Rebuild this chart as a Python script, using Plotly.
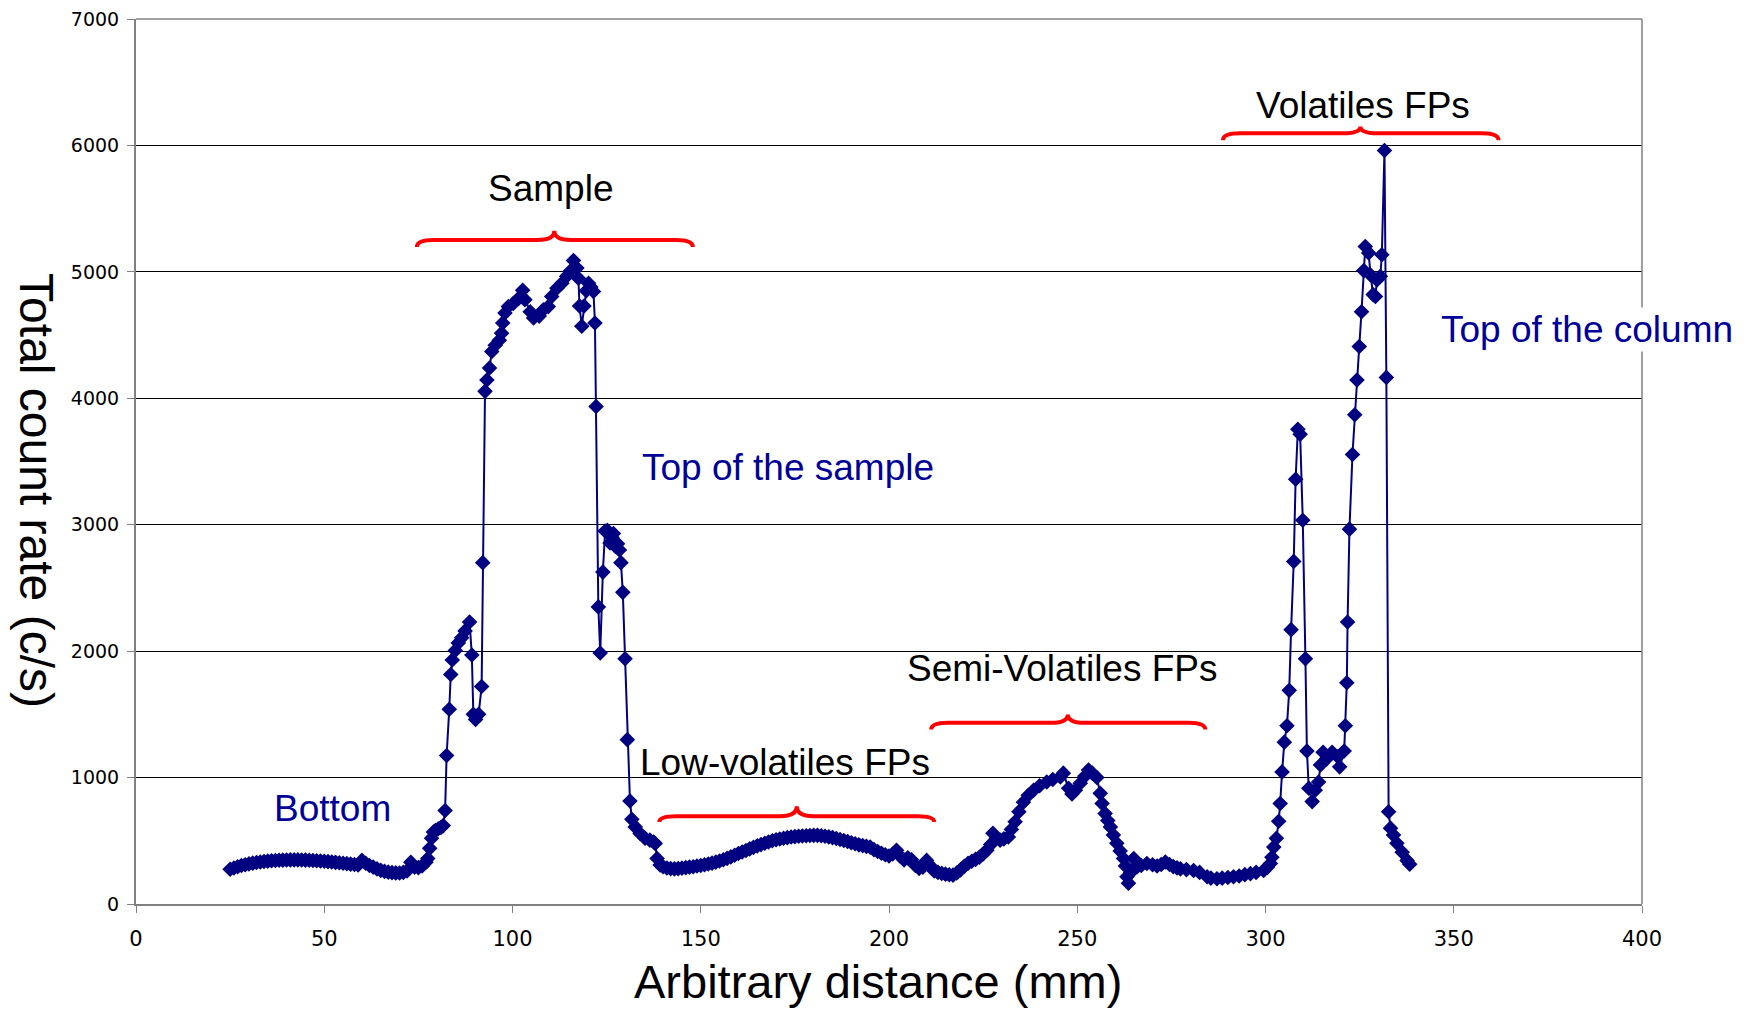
import plotly.graph_objects as go

# ---- data ----
distance_mm = [
    25, 26, 27, 28, 29, 30, 31, 32, 33, 34, 35, 36, 37, 38, 39, 40, 41, 42, 43, 44,
    45, 46, 47, 48, 49, 50, 51, 52, 53, 54, 55, 56, 57, 58, 59, 60, 61, 62, 63, 64,
    65, 66, 67, 68, 69, 70, 71, 72, 73, 74, 75, 76, 77, 77.5, 78, 78.5, 79, 79.5, 80.3, 81,
    81.6, 82.1, 82.5, 83.2, 83.6, 84.0, 84.8, 85.6, 86.5, 87.4, 88.6, 89.2, 89.6, 90.2, 91.0, 91.8,
    92.1, 92.7, 93.2, 93.9, 94.5, 95.4, 96.5, 97.1, 97.4, 98.0, 98.9, 100.2, 101.6, 102.7, 103.3, 104.7,
    105.6, 107.1, 108.2, 109.5, 110.4, 111.8, 113.1, 114.4, 115.3, 116.2, 117.1, 117.5, 117.8, 118.4, 119.0, 119.6,
    120.2, 120.8, 121.5, 121.9, 122.2, 122.8, 123.3, 124.0, 124.6, 125.2, 125.9, 126.4, 126.8, 127.3, 127.9, 128.4,
    128.8, 129.3, 129.9, 130.5, 131.2, 131.7, 132.6, 133.9, 135.2, 136.5, 137.5, 137.9, 138.4, 139.2,
    140, 141, 142, 143, 144, 145, 146, 147, 148, 149, 150, 151, 152, 153, 154, 155, 156, 157, 158, 159,
    160, 161, 162, 163, 164, 165, 166, 167, 168, 169, 170, 171, 172, 173, 174, 175, 176, 177, 178, 179,
    180, 181, 182, 183, 184, 185, 186, 187, 188, 189, 190, 191, 192, 193, 194, 195, 196, 197, 198, 199,
    200, 201, 202, 203, 204, 205, 206, 207, 208, 209, 210, 211, 212, 213, 214, 215, 216, 217, 218, 219,
    220, 221, 222, 223, 224, 225, 226, 227, 227.6, 228.5, 229.5, 230.5, 231.7, 232.5, 233.5, 234.5,
    235.7, 237.0, 238.4, 240.0, 241.9, 243.5, 245.5, 246.3, 247.7, 248.6, 249.5, 250.8, 252.0, 253.0, 254.0, 255.2,
    256.1, 256.6, 257.4, 258.1, 258.8, 259.6, 260.5, 261.4, 262.3, 262.8, 263.2, 263.6, 264.2, 265.0, 265.9, 267.0,
    268.5, 270.0, 271.2, 272.3, 273.4, 274.5, 275.5, 276.5, 277.4, 279.0, 280.9, 282.5, 284.5, 285.5, 287.1, 288.5,
    290.0, 291.5, 293.0, 294.5, 296.0, 297.5, 299.5, 300.5, 301.3, 301.7, 302.2, 302.9, 303.5, 303.9, 304.4, 305.0,
    305.7, 306.3, 306.8, 307.5, 308.0, 308.6, 309.2, 309.9, 310.6, 311.0, 311.5, 312.4, 313.2, 314.1, 314.6, 315.3,
    316.3, 317.7, 319.2, 319.7, 320.9, 321.2, 321.6, 321.8, 322.3, 323.1, 323.7, 324.3, 324.9, 325.5, 326.1, 326.5,
    327.4, 327.9, 328.6, 329.2, 329.6, 330.5, 330.9, 331.6, 332.1, 332.7, 333.2, 334.0, 334.9, 336.3, 337.6, 338.3,
]

count_rate = [
    275, 285, 295, 304, 311, 317, 323, 328, 332, 336, 339, 342, 344, 346, 347, 348, 349, 349, 349, 348,
    347, 346, 344, 342, 340, 338, 335, 332, 329, 326, 322, 319, 315, 312, 308, 345, 322, 305, 292, 278,
    266, 258, 252, 248, 246, 245, 250, 262, 330, 292, 288, 300, 330, 360, 440, 520, 570, 580, 595, 605,
    620, 740, 1175, 1540, 1815, 1930, 2005, 2065, 2105, 2160, 2230, 1970, 1500, 1460, 1500, 1720,
    2700, 4055, 4145, 4240, 4370, 4420, 4460, 4515, 4595, 4675, 4725, 4750, 4790, 4855, 4780, 4685,
    4635, 4650, 4700, 4725, 4805, 4870, 4910, 4965, 5005, 5090, 5030, 4950, 4730, 4570, 4730, 4850,
    4910, 4880, 4845, 4595, 3935, 2350, 1985, 2625, 2950, 2955, 2855, 2900, 2930, 2830, 2850, 2800,
    2700, 2465, 1940, 1300, 815, 670, 610, 558, 520, 505, 490, 478, 360, 308,
    295, 285, 280, 278, 280, 284, 288, 292, 295, 300, 305, 310, 316, 323, 331, 340, 350, 361, 373, 386,
    399, 411, 423, 436, 448, 460, 470, 480, 490, 500, 508, 514, 520, 525, 530, 533, 536, 538, 540, 542,
    543, 543, 540, 536, 531, 525, 518, 510, 502, 494, 485, 476, 468, 462, 456, 450, 430, 415, 402, 390,
    380, 395, 425, 378, 348, 365, 350, 305, 282, 292, 345, 300, 262, 250, 242, 236, 231, 228, 245, 270,
    298, 322, 338, 353, 370, 395, 425, 470, 560, 520, 505, 515, 530, 590, 650, 730,
    805, 860, 900, 935, 965, 985, 1005, 1035, 915, 870, 900, 955, 1010, 1060, 1035, 1000,
    875, 795, 715, 660, 610, 545, 480, 420, 360, 300, 215, 165, 250, 360, 295, 305,
    320, 310, 300, 312, 332, 312, 296, 286, 278, 272, 265, 250, 215, 205, 200, 205,
    210, 215, 222, 232, 240, 250, 265, 290, 320, 370, 450, 520, 655, 795, 1045, 1280,
    1410, 1690, 2170, 2710, 3360, 3755, 3715, 3035, 1940, 1210, 915, 810, 900, 965, 1100, 1200,
    1150, 1200, 1165, 1085, 1210, 1410, 1750, 2230, 2965, 3555, 3870, 4145, 4410, 4685, 5010, 5200,
    5150, 4975, 4820, 4805, 4935, 4965, 5135, 5960, 4165, 730, 600, 545, 480, 410, 345, 315,
]

x_ticks = [0, 50, 100, 150, 200, 250, 300, 350, 400]
y_ticks = [0, 1000, 2000, 3000, 4000, 5000, 6000, 7000]

x_title = "Arbitrary distance (mm)"
y_title = "Total count rate (c/s)"

# region labels (black, with red braces) : text, x, y
region_labels = ["Sample", "Volatiles FPs", "Semi-Volatiles FPs", "Low-volatiles FPs"]
region_label_x = [110.1, 326.0, 246.2, 172.4]
region_label_y = [5663, 6319, 1864, 1119]

# location labels (blue)
location_labels = ["Bottom", "Top of the sample", "Top of the column"]
location_label_x = [52.3, 173.2, 385.3]
location_label_y = [755, 3453, 4544]

# braces: left end, centre, right end (mm); tip level, bar level, cusp level (c/s)
brace_left = [74.6, 288.7, 211.2, 139.0]
brace_mid = [111.1, 325.2, 247.5, 175.5]
brace_right = [147.9, 361.9, 284.0, 212.0]
brace_tip = [5196, 6040, 1380, 649]
brace_bar = [5252, 6096, 1433, 694]
brace_cusp = [5325, 6150, 1499, 773]

NAVY = "#000080"
LABEL_BLUE = "#000099"
FONT = "Liberation Sans, Arial, sans-serif"

fig = go.Figure()
fig.add_trace(go.Scatter(
    x=distance_mm, y=count_rate, mode="lines+markers",
    line=dict(color=NAVY, width=2),
    marker=dict(symbol="diamond", size=12, color=NAVY, line=dict(width=0)),
    showlegend=False, cliponaxis=False,
))


def brace_path(x0, xm, x1, ytip, ybar, ycusp):
    d_end = 4.5
    d_mid = 4.5
    return (f"M {x0},{ytip} Q {x0},{ybar} {x0 + d_end},{ybar} "
            f"L {xm - d_mid},{ybar} Q {xm},{ybar} {xm},{ycusp} "
            f"Q {xm},{ybar} {xm + d_mid},{ybar} "
            f"L {x1 - d_end},{ybar} Q {x1},{ybar} {x1},{ytip}")


shapes = []
for i in range(len(brace_left)):
    shapes.append(dict(
        type="path", xref="x", yref="y",
        path=brace_path(brace_left[i], brace_mid[i], brace_right[i],
                        brace_tip[i], brace_bar[i], brace_cusp[i]),
        line=dict(color="#FF0000", width=4),
    ))
# top and right frame lines
shapes.append(dict(type="line", xref="paper", yref="paper", x0=0, x1=1, y0=1, y1=1,
                   line=dict(color="#808080", width=1.5)))
shapes.append(dict(type="line", xref="paper", yref="paper", x0=1, x1=1, y0=0, y1=1,
                   line=dict(color="#808080", width=1.5)))

annotations = []
for t, xx, yy in zip(region_labels, region_label_x, region_label_y):
    annotations.append(dict(text=t, x=xx, y=yy, xref="x", yref="y", showarrow=False,
                            font=dict(family=FONT, size=37, color="#000000"),
                            xanchor="center", yanchor="middle"))
for t, xx, yy in zip(location_labels, location_label_x, location_label_y):
    annotations.append(dict(text=t, x=xx, y=yy, xref="x", yref="y", showarrow=False,
                            font=dict(family=FONT, size=37, color=LABEL_BLUE),
                            bgcolor="#FFFFFF" if t == "Top of the column" else None,
                            xanchor="center", yanchor="middle"))
annotations.append(dict(text=x_title, x=0.4927, y=-0.0874, xref="paper", yref="paper",
                        showarrow=False, font=dict(family=FONT, size=47, color="#000000"),
                        xanchor="center", yanchor="middle"))
annotations.append(dict(text=y_title, x=-0.0665, y=0.4667, xref="paper", yref="paper",
                        showarrow=False, textangle=90, font=dict(family=FONT, size=48, color="#000000"),
                        xanchor="center", yanchor="middle"))

fig.update_layout(
    width=1758, height=1017,
    margin=dict(l=128, r=124, t=11, b=121, autoexpand=False),
    paper_bgcolor="#FFFFFF", plot_bgcolor="#FFFFFF",
    shapes=shapes, annotations=annotations,
    xaxis=dict(range=[0, 400], tickvals=x_ticks, ticktext=[str(v) for v in x_ticks],
               showgrid=False, zeroline=False, showline=True, linecolor="#808080", linewidth=2,
               ticks="outside", ticklen=7, tickcolor="#808080", tickwidth=1,
               tickfont=dict(family="DejaVu Sans, sans-serif", size=21, color="#000000"),
               ticklabelstandoff=8, ticklabeloverflow="allow", automargin=False),
    yaxis=dict(range=[0, 7000], tickvals=y_ticks, ticktext=[str(v) for v in y_ticks],
               showgrid=True, gridcolor="#000000", gridwidth=1, zeroline=False,
               showline=True, linecolor="#808080", linewidth=2,
               ticks="outside", ticklen=7, tickcolor="#808080", tickwidth=1,
               tickfont=dict(family="DejaVu Sans, sans-serif", size=19, color="#000000"),
               ticklabelstandoff=4, ticklabeloverflow="allow", automargin=False),
)

fig.write_html("out.html")
